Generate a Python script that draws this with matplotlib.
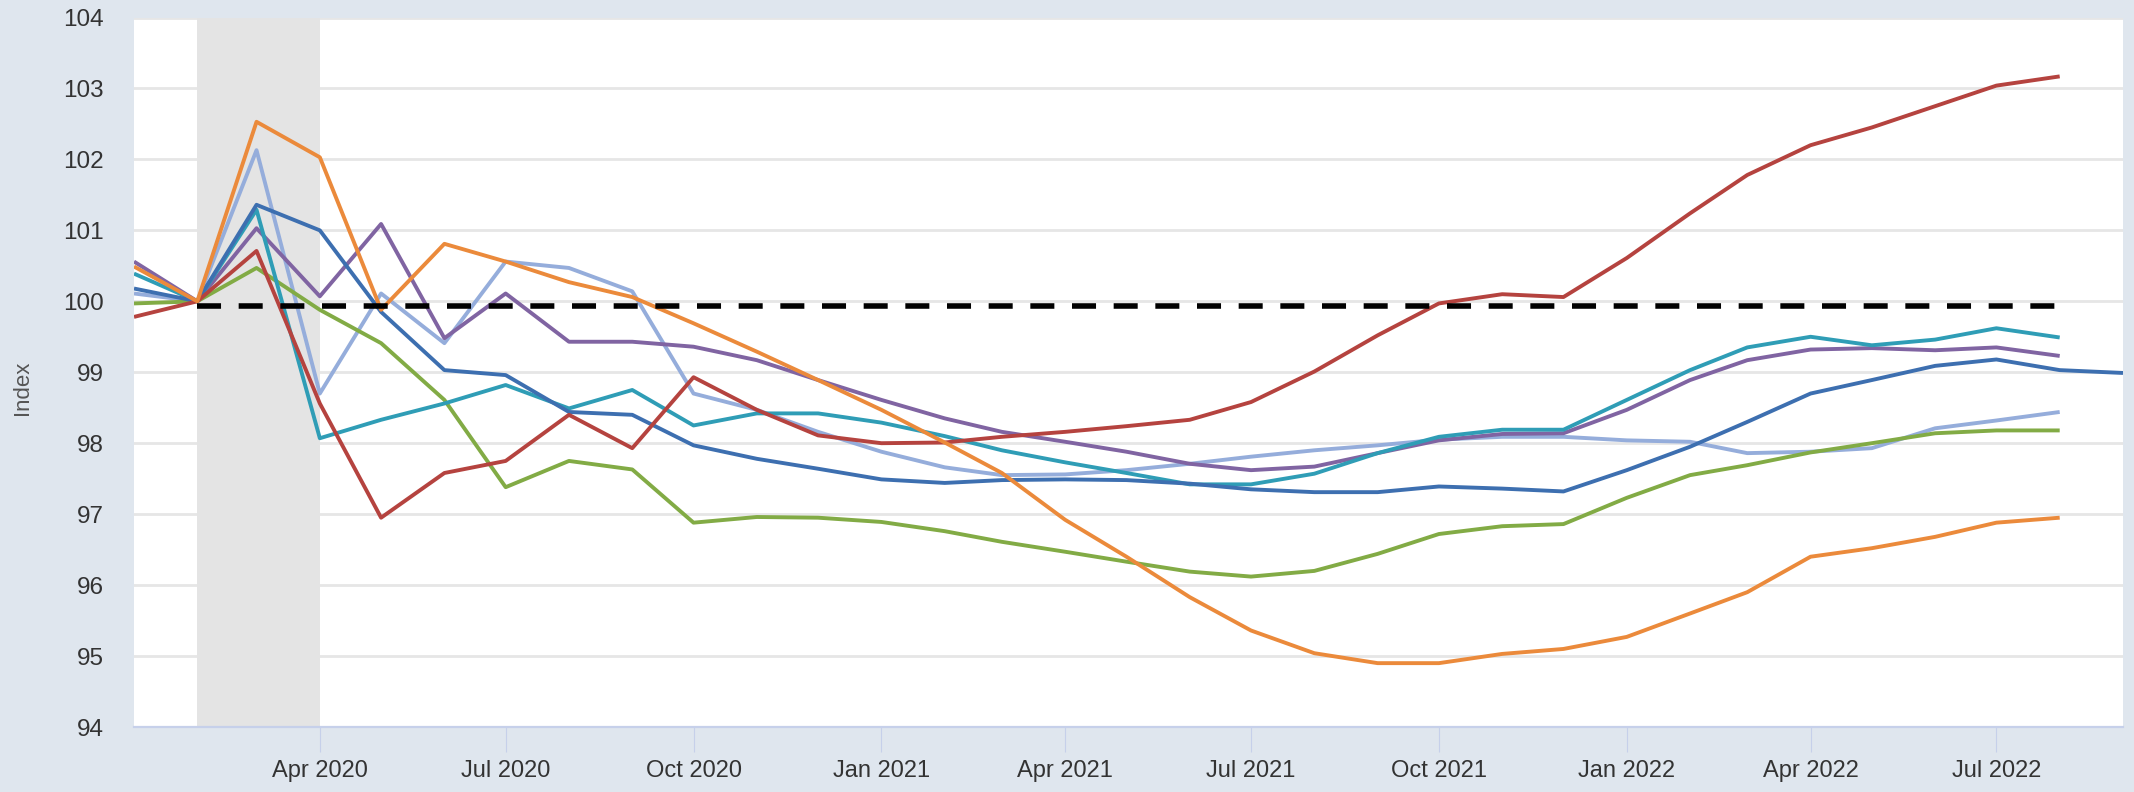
import numpy as np
import pandas as pd
import matplotlib
matplotlib.use('Agg')
import matplotlib.pyplot as plt

plt.rcParams['font.family'] = ['Liberation Sans Narrow', 'Liberation Sans', 'DejaVu Sans']
plt.rcParams['lines.scale_dashes'] = False

# ── Data (monthly index, Feb 2020 = 100) ─────────────────────────────────────
months = pd.date_range('2020-01-01', '2022-08-01', freq='MS')
months_ext = pd.date_range('2020-01-01', '2022-09-01', freq='MS')

light_blue = [100.11, 100.0, 102.13, 98.70, 100.11, 99.41, 100.56, 100.47, 100.14, 98.70,
              98.47, 98.16, 97.88, 97.66, 97.55, 97.56, 97.62, 97.71, 97.81, 97.90,
              97.97, 98.05, 98.09, 98.09, 98.04, 98.02, 97.86, 97.88, 97.93, 98.21,
              98.32, 98.44]
green = [99.97, 100.0, 100.47, 99.88, 99.41, 98.61, 97.38, 97.75, 97.63, 96.88,
         96.96, 96.95, 96.89, 96.76, 96.61, 96.47, 96.33, 96.19, 96.12, 96.20,
         96.44, 96.72, 96.83, 96.86, 97.23, 97.55, 97.69, 97.87, 98.00, 98.14,
         98.18, 98.18]
purple = [100.56, 100.0, 101.03, 100.07, 101.09, 99.48, 100.11, 99.43, 99.43, 99.36,
          99.17, 98.89, 98.61, 98.35, 98.16, 98.02, 97.88, 97.71, 97.62, 97.67,
          97.86, 98.04, 98.13, 98.14, 98.47, 98.89, 99.17, 99.32, 99.34, 99.31,
          99.35, 99.23]
teal = [100.39, 100.0, 101.29, 98.07, 98.33, 98.56, 98.82, 98.49, 98.75, 98.25,
        98.42, 98.42, 98.29, 98.10, 97.90, 97.73, 97.58, 97.42, 97.42, 97.57,
        97.86, 98.09, 98.19, 98.19, 98.61, 99.03, 99.35, 99.50, 99.38, 99.46,
        99.62, 99.49]
dark_blue = [100.18, 100.0, 101.36, 101.00, 99.85, 99.03, 98.96, 98.44, 98.40, 97.97,
             97.78, 97.64, 97.49, 97.44, 97.48, 97.49, 97.48, 97.43, 97.35, 97.31,
             97.31, 97.39, 97.36, 97.32, 97.62, 97.95, 98.30, 98.70, 98.89, 99.09,
             99.18, 99.03, 98.99]
red = [99.78, 100.0, 100.71, 98.56, 96.95, 97.58, 97.75, 98.40, 97.93, 98.93,
       98.47, 98.11, 98.00, 98.01, 98.09, 98.16, 98.24, 98.33, 98.58, 99.01,
       99.52, 99.97, 100.10, 100.06, 100.61, 101.24, 101.78, 102.20, 102.45, 102.75,
       103.04, 103.17]
orange = [100.49, 100.0, 102.53, 102.03, 99.88, 100.81, 100.56, 100.27, 100.06, 99.69,
          99.29, 98.89, 98.47, 98.01, 97.58, 96.92, 96.40, 95.83, 95.36, 95.04,
          94.90, 94.90, 95.03, 95.10, 95.27, 95.60, 95.90, 96.40, 96.52, 96.68,
          96.88, 96.95]

ref_level = 99.93
recession = ('2020-02-01', '2020-04-01')
tick_dates = pd.date_range('2020-04-01', '2022-07-01', freq='QS-JAN')
tick_labels = [d.strftime('%b %Y') for d in tick_dates]

# ── Plot ─────────────────────────────────────────────────────────────────────
bg = '#dfe6ee'
fig = plt.figure(figsize=(21.34, 7.92), dpi=100, facecolor=bg)
ax = fig.add_axes([134 / 2134, 65 / 792, 1989 / 2134, 709.5 / 792])
ax.set_facecolor('white')

ax.set_xlim(pd.Timestamp('2020-01-01'), pd.Timestamp('2022-09-01'))
ax.set_ylim(94, 104)

ax.set_yticks(np.arange(94, 105, 1))
ax.grid(axis='y', color='#e6e6e6', linewidth=2.0, zorder=0)
ax.set_axisbelow(True)

ax.axvspan(pd.Timestamp(recession[0]), pd.Timestamp(recession[1]),
           color='#e4e4e4', zorder=1, linewidth=0)

series = [
    (light_blue, '#95addb', months),
    (green, '#82ab45', months),
    (purple, '#8064a2', months),
    (teal, '#2f9db6', months),
    (dark_blue, '#3d6fb0', months_ext),
    (red, '#b5433f', months),
    (orange, '#eb8a3b', months),
]
for vals, col, x in series:
    ax.plot(x, vals, color=col, linewidth=2.8, solid_joinstyle='round',
            solid_capstyle='butt', zorder=3)

ax.plot([pd.Timestamp('2020-02-01'), pd.Timestamp('2022-08-05')], [ref_level, ref_level],
        color='black', linewidth=4.0, dashes=(17.3, 12.7), zorder=4)

for s in ['left', 'right', 'top']:
    ax.spines[s].set_visible(False)
ax.spines['bottom'].set_color('#c6d0ea')
ax.spines['bottom'].set_linewidth(1.6)

ax.set_xticks(tick_dates)
ax.set_xticklabels(tick_labels)
ax.tick_params(axis='x', length=18, width=0.8, color='#c6d0ea', pad=6,
               labelsize=17, labelcolor='#333333')
ax.tick_params(axis='y', length=0, pad=22, labelsize=17.5, labelcolor='#333333')

fig.text(23 / 2134, 1 - 388 / 792, 'Index', rotation=90, ha='center', va='center',
         fontsize=16, color='#555555', family=['Liberation Sans', 'DejaVu Sans'])

fig.savefig('out.png', dpi=100, facecolor=bg)
